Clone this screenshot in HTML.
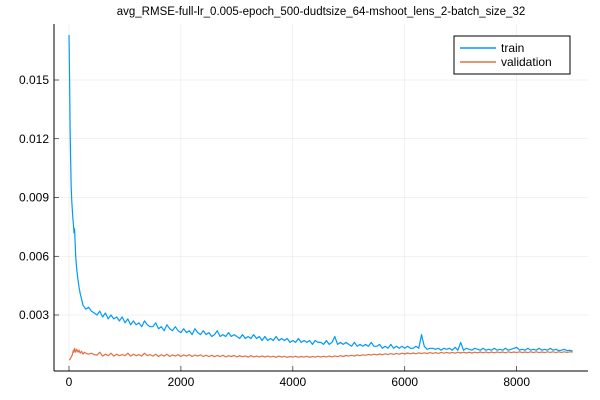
<!DOCTYPE html>
<html><head><meta charset="utf-8"><style>
body{margin:0;background:#fff}svg{display:block;font-family:"Liberation Sans",sans-serif}
</style></head><body>
<svg id="chart" width="600" height="400" viewBox="0 0 600 400">
<text x="321" y="15" font-size="11.5" text-anchor="middle">avg_RMSE-full-lr_0.005-epoch_500-dudtsize_64-mshoot_lens_2-batch_size_32</text>
<g id="grid"></g>
<g id="series"></g>
<g id="axes"></g>
<g>
<rect x="454" y="36" width="116" height="38" fill="#fff" stroke="#000" stroke-width="1"/>
<line x1="460" y1="48" x2="496" y2="48" stroke="#009af9" stroke-width="1.5"/>
<text x="501" y="52" font-size="12">train</text>
<line x1="460" y1="62" x2="496" y2="62" stroke="#e26f46" stroke-width="1.5"/>
<text x="501" y="66" font-size="12">validation</text>
</g>
</svg>
<script>
const earlySteps=[0,10,20,30,40,50,60,70,80,90,100,110,120,140,160,180,200,225,250,275,300,350,400,450];
const trainEarly=[0.0173,0.0150,0.0125,0.0108,0.0095,0.0088,0.0083,0.0079,0.0076,0.0072,0.0074,0.0066,0.0060,0.0053,0.0048,0.0044,0.0041,0.0038,0.0035,0.0034,0.0033,0.0034,0.0032,0.0031];
const valEarly=[0.0007,0.00072,0.00075,0.0008,0.00085,0.0009,0.0010,0.0011,0.0012,0.0011,0.0013,0.0012,0.0011,0.00125,0.0011,0.0012,0.00105,0.00115,0.0010,0.0011,0.00105,0.001,0.00105,0.00098];
const lateStart=500, lateStep=50;
const trainLate=[
0.0030,0.0032,0.0029,0.0031,0.0028,0.0030,0.0028,0.0029,0.0027,0.0029,
0.0026,0.0028,0.0025,0.0027,0.0025,0.0026,0.0024,0.0027,0.0025,0.0024,
0.0024,0.0026,0.0023,0.0024,0.0022,0.0025,0.0023,0.0022,0.0024,0.0022,
0.0021,0.0023,0.0021,0.0022,0.0020,0.0023,0.0021,0.0020,0.0022,0.0020,
0.0021,0.0019,0.0020,0.0022,0.0019,0.0020,0.0019,0.0021,0.0019,0.0020,
0.0019,0.0018,0.0020,0.0018,0.0019,0.0018,0.0020,0.0018,0.0019,0.0017,
0.0019,0.0017,0.0018,0.0017,0.0019,0.0017,0.0018,0.0017,0.0018,0.0016,
0.0017,0.0016,0.0018,0.0016,0.0017,0.0016,0.0017,0.0015,0.0017,0.0016,
0.0016,0.0015,0.0017,0.0015,0.0016,0.0019,0.0015,0.0016,0.0015,0.0016,
0.0015,0.0014,0.0016,0.0014,0.0015,0.0014,0.0015,0.0014,0.0016,0.0014,
0.0014,0.0015,0.0013,0.0014,0.0013,0.0015,0.0013,0.0014,0.0013,0.0014,
0.0013,0.0014,0.0013,0.0013,0.0014,0.0013,0.0020,0.0014,0.00125,0.0013,
0.0013,0.00125,0.0013,0.0012,0.0013,0.00125,0.0013,0.0012,0.00135,0.0012,
0.0016,0.0012,0.0013,0.00125,0.0012,0.0013,0.00125,0.0012,0.0013,0.0012,
0.00125,0.0012,0.0013,0.0012,0.00125,0.0012,0.0013,0.0012,0.00125,0.0013,
0.00135,0.0012,0.00125,0.0012,0.0013,0.0012,0.00125,0.0012,0.0013,0.0012,
0.00125,0.0012,0.0013,0.0012,0.00125,0.00118,0.0012,0.00125,0.00118,0.0012,
0.00115];
const valLate=[
0.00095,0.0011,0.0009,0.001,0.00092,0.00105,0.0009,0.001,0.00092,0.00098,
0.00092,0.00105,0.0009,0.001,0.00092,0.00098,0.0009,0.00105,0.00092,0.00098,
0.0009,0.001,0.00088,0.00098,0.0009,0.001,0.00088,0.00096,0.0009,0.00098,
0.00088,0.00096,0.0009,0.00098,0.00088,0.00095,0.0009,0.00096,0.00088,0.00094,
0.00088,0.00094,0.00087,0.00093,0.00088,0.00094,0.00086,0.00092,0.00088,0.00093,
0.00086,0.00092,0.00087,0.00091,0.00085,0.00092,0.00086,0.0009,0.00086,0.00091,
0.00085,0.0009,0.00086,0.00089,0.00084,0.0009,0.00085,0.00089,0.00084,0.00088,
0.00085,0.00089,0.00084,0.00088,0.00085,0.00089,0.00084,0.00088,0.00085,0.00089,
0.00085,0.00089,0.00086,0.0009,0.00086,0.00091,0.00087,0.00092,0.00088,0.00093,
0.0009,0.00094,0.0009,0.00096,0.00092,0.00097,0.00094,0.00099,0.00095,0.001,
0.00096,0.00101,0.00097,0.00102,0.00098,0.00103,0.00099,0.00104,0.001,0.00105,
0.00101,0.00106,0.00102,0.00106,0.00102,0.00107,0.00103,0.00107,0.00103,0.00108,
0.00104,0.00108,0.00104,0.00109,0.00105,0.00109,0.00105,0.00109,0.00105,0.0011,
0.00106,0.0011,0.00106,0.0011,0.00106,0.0011,0.00107,0.00111,0.00107,0.00111,
0.00107,0.00111,0.00107,0.00111,0.00108,0.00111,0.00107,0.00112,0.00108,0.00111,
0.00108,0.00112,0.00108,0.00111,0.00108,0.00112,0.00108,0.00112,0.00108,0.00111,
0.00108,0.00112,0.00109,0.00112,0.00108,0.00112,0.00109,0.00112,0.00109,0.00112,
0.0011];
const yTicks=[0.003,0.006,0.009,0.012,0.015];
const yTickLabels=["0.003","0.006","0.009","0.012","0.015"];
const xTicks=[0,2000,4000,6000,8000];
const xTickLabels=["0","2000","4000","6000","8000"];
const NS="http://www.w3.org/2000/svg";
function xs(v){return 69+v*0.05596;}
function ys(v){return 315-(v-0.003)*19583;}
function mk(tag,attrs,parent){const e=document.createElementNS(NS,tag);for(const k in attrs)e.setAttribute(k,attrs[k]);parent.appendChild(e);return e;}
const grid=document.getElementById('grid'),axes=document.getElementById('axes'),ser=document.getElementById('series');
yTicks.forEach((t,i)=>{
 const g=mk('line',{x1:54,x2:588,y1:ys(t),y2:ys(t),stroke:'#000','stroke-opacity':0.1,'stroke-width':0.5},grid);
 
 
 const tk=mk('line',{x1:54,x2:59,y1:ys(t),y2:ys(t),stroke:'#000','stroke-width':0.6},axes);
 
 
 const tx=mk('text',{x:49,y:ys(t)+4,'font-size':12,'text-anchor':'end'},axes);
 tx.textContent=yTickLabels[i];
 
 
});
xTicks.forEach((t,i)=>{
 const g=mk('line',{x1:xs(t),x2:xs(t),y1:24,y2:371,stroke:'#000','stroke-opacity':0.1,'stroke-width':0.5},grid);
 
 
 const tk=mk('line',{x1:xs(t),x2:xs(t),y1:371,y2:366,stroke:'#000','stroke-width':0.6},axes);
 
 
 const tx=mk('text',{x:xs(t),y:386,'font-size':12,'text-anchor':'middle'},axes);
 tx.textContent=xTickLabels[i];
 
 
});
const ya=mk('line',{x1:54,x2:54,y1:24,y2:371,stroke:'#000','stroke-width':1},axes);


const xa=mk('line',{x1:54,x2:588,y1:371,y2:371,stroke:'#000','stroke-width':1},axes);


function line(early,late,color,name){
 const pts=[];
 early.forEach((v,i)=>pts.push([earlySteps[i],v]));
 late.forEach((v,i)=>pts.push([lateStart+i*lateStep,v]));
 const d=pts.map((p,i)=>(i?'L':'M')+xs(p[0]).toFixed(1)+','+ys(p[1]).toFixed(1)).join('');
 const p=mk('path',{d:d,fill:'none',stroke:color,'stroke-width':1.2,'stroke-linejoin':'round'},ser);
 
 
}
line(valEarly,valLate,'#e26f46','validation-line');
line(trainEarly,trainLate,'#009af9','train-line');
</script>
</body></html>
